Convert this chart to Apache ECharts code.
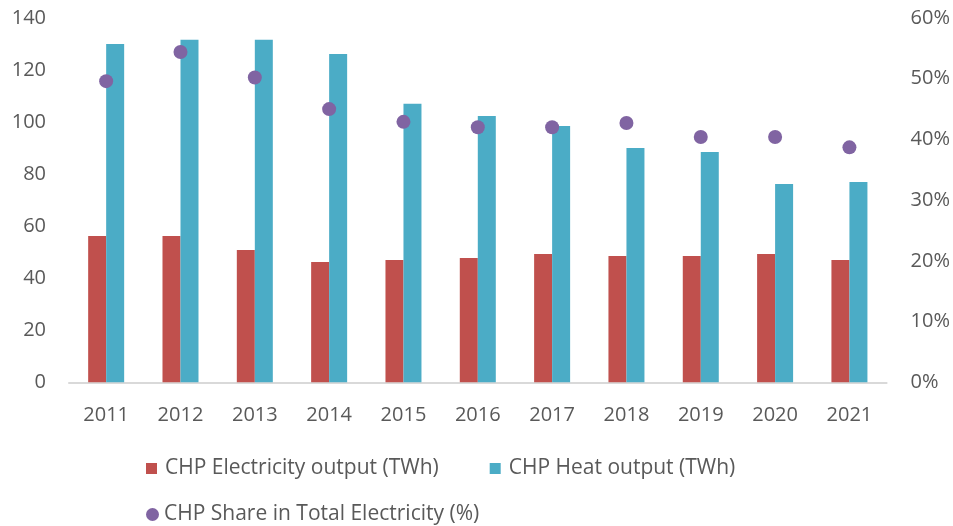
<!DOCTYPE html>
<html>
<head>
<meta charset="utf-8">
<script src="https://cdn.jsdelivr.net/npm/echarts@6/dist/echarts.min.js"></script>
<style>
html,body{margin:0;padding:0;background:#fff;}
#chart{width:953px;height:526px;}
</style>
</head>
<body>
<div id="chart"></div>
<script>
var years = ['2011','2012','2013','2014','2015','2016','2017','2018','2019','2020','2021'];
var electricity = [56.2, 56.2, 50.8, 46.2, 47.0, 47.8, 49.3, 48.5, 48.5, 49.3, 47.0];
var heat = [130.0, 131.6, 131.6, 126.2, 107.0, 102.3, 98.5, 90.0, 88.5, 76.2, 77.0];
var share = [49.6, 54.4, 50.2, 45.0, 42.9, 42.0, 42.0, 42.7, 40.4, 40.4, 38.7];
var leftTicks = {min: 0, max: 140, interval: 20};
var rightTicks = {min: 0, max: 60, interval: 10};

var FONT = 'Open Sans';
var TXT = '#595959';
var chart = echarts.init(document.getElementById('chart'), null, {renderer: 'canvas'});
chart.setOption({
  animation: false,
  backgroundColor: '#ffffff',
  textStyle: {fontFamily: FONT, color: TXT},
  grid: {left: 69, right: 66, top: 18, bottom: 143.7, containLabel: false},
  legend: [
    {
      data: ['CHP Electricity output (TWh)', 'CHP Heat output (TWh)'],
      left: 141, top: 453, icon: 'rect', itemWidth: 11, itemHeight: 11, itemGap: 51,
      textStyle: {fontFamily: FONT, fontSize: 21, color: TXT, padding: [0,0,0,3]}
    },
    {
      data: ['CHP Share in Total Electricity (%)'],
      left: 141, top: 499, icon: 'circle', itemWidth: 13, itemHeight: 13,
      textStyle: {fontFamily: FONT, fontSize: 21, color: TXT, padding: [0,0,0,0]}
    }
  ],
  xAxis: {
    type: 'category', data: years,
    axisLine: {lineStyle: {color: '#D9D9D9', width: 2}},
    axisTick: {show: false},
    axisLabel: {fontFamily: FONT, fontSize: 20, color: TXT, margin: 23}
  },
  yAxis: [
    {
      type: 'value', min: leftTicks.min, max: leftTicks.max, interval: leftTicks.interval,
      splitLine: {show: false}, axisLine: {show: false}, axisTick: {show: false},
      axisLabel: {fontFamily: FONT, fontSize: 20, color: TXT, margin: 23}
    },
    {
      type: 'value', position: 'right', min: rightTicks.min, max: rightTicks.max, interval: rightTicks.interval,
      splitLine: {show: false}, axisLine: {show: false}, axisTick: {show: false},
      axisLabel: {fontFamily: FONT, fontSize: 20, color: TXT, margin: 24, formatter: '{value}%'}
    }
  ],
  series: [
    {name: 'CHP Electricity output (TWh)', type: 'bar', data: electricity, barWidth: 18, barGap: '0%',
     itemStyle: {color: '#C0504D'}},
    {name: 'CHP Heat output (TWh)', type: 'bar', data: heat, barWidth: 18, barGap: '0%',
     itemStyle: {color: '#4BACC6'}},
    {name: 'CHP Share in Total Electricity (%)', type: 'scatter', yAxisIndex: 1, data: share,
     symbol: 'circle', symbolSize: 14, itemStyle: {color: '#8064A2', opacity: 1}}
  ]
});
</script>
</body>
</html>
